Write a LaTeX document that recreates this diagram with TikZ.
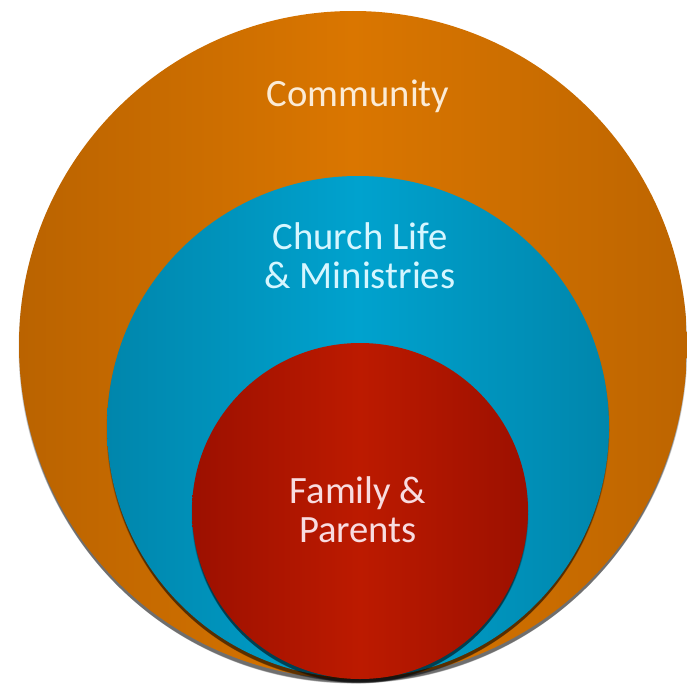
\documentclass[tikz,border=0pt]{standalone}
\usepackage{fontspec}
\setmainfont{Carlito}
\definecolor{orD}{HTML}{BA6300}
\definecolor{orM}{HTML}{DA7600}
\definecolor{blD}{HTML}{0086AC}
\definecolor{blM}{HTML}{00A2CE}
\definecolor{rdD}{HTML}{9C1000}
\definecolor{rdM}{HTML}{BC1A00}
\definecolor{txO}{HTML}{FBEBD6}
\definecolor{txB}{HTML}{D6F6FF}
\definecolor{txR}{HTML}{F8DCE0}
\tikzset{
  ring/.style={circle, inner sep=0pt, shading=axis, shading angle=90},
  lbl/.style={font=\fontsize{29}{29}\selectfont, align=center},
}
\newcommand{\softshadow}[3]{%
  \foreach \k in {0,...,5}{
    \fill[black, opacity=0.13] (#1+0, #2+3+0.7*\k) circle[radius=#3+0.5-0.5*\k];
  }}
\begin{document}
\begin{tikzpicture}[x=0.75pt,y=-0.75pt]
\useasboundingbox (0,0) rectangle (686,692);
% outer
\softshadow{353}{345}{334}
\node[ring, minimum size=668*0.75pt, left color=orD, right color=orD!90!orM, middle color=orM] (comm) at (353,345) {};
% middle
\softshadow{358}{427}{251}
\node[ring, minimum size=502*0.75pt, left color=blD, right color=blD, middle color=blM] (church) at (358,427) {};
% inner
\softshadow{360}{511}{168}
\node[ring, minimum size=336*0.75pt, left color=rdD, right color=rdD, middle color=rdM] (family) at (360,511) {};
% labels
\node[lbl, text=txO] (tcomm) at (358,96) {Community};
\node[lbl, text=txB] (tchurch) at (360,256) {Church Life\\\& Ministries};
\node[lbl, text=txR] (tfam) at (358,510) {Family \&\\Parents};
\end{tikzpicture}
\end{document}
